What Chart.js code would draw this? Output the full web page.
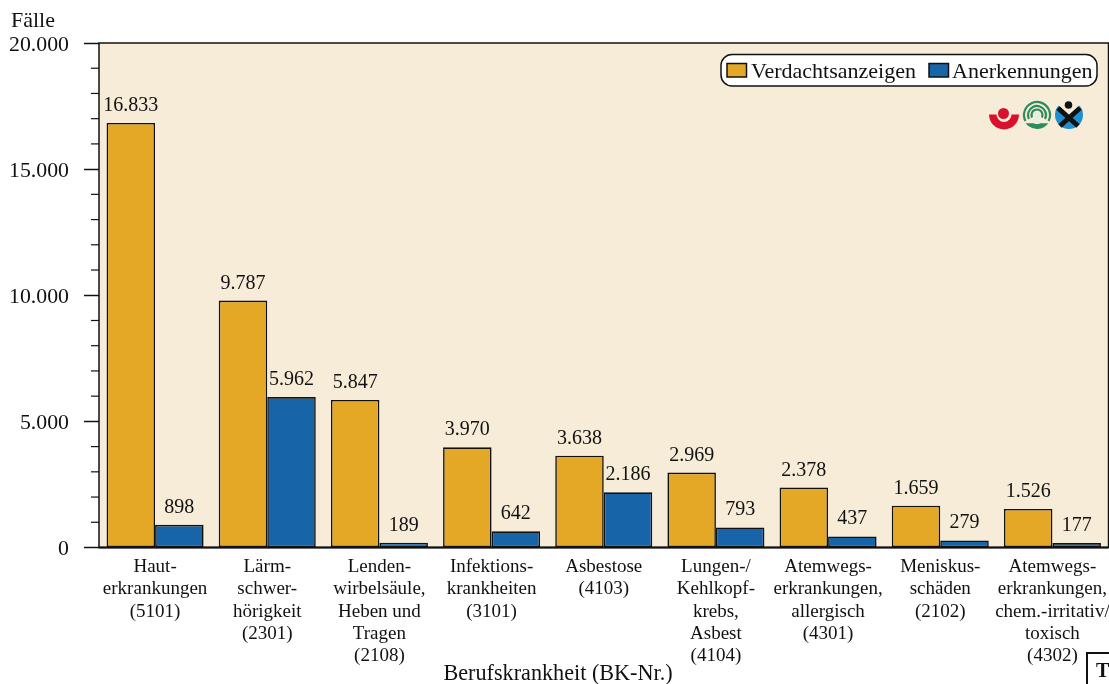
<!DOCTYPE html>
<html lang="de">
<head>
<meta charset="UTF-8">
<title>Berufskrankheiten</title>
<style>
    html, body { margin: 0; padding: 0; background: #fff; overflow: hidden; }
    canvas { display: block; }
</style>
<script src="https://cdn.jsdelivr.net/npm/chart.js"></script>
</head>
<body>
<canvas id="chart" width="1109" height="684"></canvas>
<script>
const categories = [
    ['Haut-', 'erkrankungen', '(5101)'],
    ['Lärm-', 'schwer-', 'hörigkeit', '(2301)'],
    ['Lenden-', 'wirbelsäule,', 'Heben und', 'Tragen', '(2108)'],
    ['Infektions-', 'krankheiten', '(3101)'],
    ['Asbestose', '(4103)'],
    ['Lungen-/', 'Kehlkopf-', 'krebs,', 'Asbest', '(4104)'],
    ['Atemwegs-', 'erkrankungen,', 'allergisch', '(4301)'],
    ['Meniskus-', 'schäden', '(2102)'],
    ['Atemwegs-', 'erkrankungen,', 'chem.-irritativ/', 'toxisch', '(4302)']
];
const verdachtsanzeigen = [16833, 9787, 5847, 3970, 3638, 2969, 2378, 1659, 1526];
const anerkennungen = [898, 5962, 189, 642, 2186, 793, 437, 279, 177];
const yTickLabels = ['0', '5.000', '10.000', '15.000', '20.000'];

const FONT = '"Liberation Serif", "Times New Roman", serif';
const GOLD = '#e5a826';
const BLUE = '#1765a8';
const PAPER = '#f6ecd8';
const INK = '#111';

// plot background
const plotBackground = {
    id: 'plotBackground',
    // y tick labels sit 2px under their ticks in the original
    afterUpdate(chart) {
        chart.scales.y.getLabelItems(chart.chartArea).forEach(item => {
            item.options.translation[1] += 2;
        });
    },
    beforeDraw(chart) {
        const a = chart.chartArea, c = chart.ctx;
        c.save();
        c.fillStyle = PAPER;
        c.fillRect(a.left, a.top, a.width, a.height);
        c.restore();
    }
};

// value labels over the bars
const barValues = {
    id: 'barValues',
    afterDatasetsDraw(chart) {
        const c = chart.ctx;
        c.save();
        c.font = '20px ' + FONT;
        c.fillStyle = INK;
        c.textAlign = 'center';
        c.textBaseline = 'alphabetic';
        chart.data.datasets.forEach((ds, i) => {
            chart.getDatasetMeta(i).data.forEach((bar, j) => {
                c.fillText(ds.data[j].toLocaleString('de-DE'), bar.x, bar.y - 12);
            });
        });
        c.restore();
    }
};

// frame, minor ticks, legend, axis captions, logos
const decorations = {
    id: 'decorations',
    afterDraw(chart) {
        const a = chart.chartArea, c = chart.ctx, y = chart.scales.y;
        c.save();
        c.strokeStyle = INK;

        c.lineWidth = 1.5;
        c.strokeRect(a.left, a.top, a.width, a.height);
        c.lineWidth = 2;
        c.beginPath();
        c.moveTo(a.left, a.bottom);
        c.lineTo(a.right, a.bottom);
        c.stroke();

        c.lineWidth = 1.2;
        y.ticks.forEach(t => {
            if (t.value % 5000 === 0) return;
            const py = y.getPixelForValue(t.value);
            c.beginPath();
            c.moveTo(a.left - 8, py);
            c.lineTo(a.left, py);
            c.stroke();
        });

        // legend
        c.fillStyle = '#fff';
        c.lineWidth = 1.5;
        c.beginPath();
        c.roundRect(721, 54.5, 376, 31.5, 11);
        c.fill();
        c.stroke();
        const entries = [[727, 751], [929, 952]];
        chart.data.datasets.forEach((ds, i) => {
            c.fillStyle = ds.backgroundColor;
            c.fillRect(entries[i][0], 63.5, 19.5, 13.5);
            c.lineWidth = 1.5;
            c.strokeRect(entries[i][0], 63.5, 19.5, 13.5);
            c.fillStyle = INK;
            c.font = '22px ' + FONT;
            c.textAlign = 'left';
            c.textBaseline = 'alphabetic';
            c.fillText(ds.label, entries[i][1], 78);
        });

        c.fillStyle = INK;
        c.font = '22px ' + FONT;
        c.textAlign = 'left';
        c.fillText('Fälle', 11, 27);
        c.font = '22.2px ' + FONT;
        c.textAlign = 'center';
        c.fillText('Berufskrankheit (BK-Nr.)', 558, 680);

        // T box
        c.fillStyle = '#fff';
        c.fillRect(1087, 653, 24, 34);
        c.lineWidth = 2;
        c.strokeRect(1087, 653, 24, 34);
        c.fillStyle = INK;
        c.font = 'bold 20px ' + FONT;
        c.textAlign = 'left';
        c.fillText('T', 1096, 677);

        drawLogos(c);
        c.restore();
    }
};

function drawLogos(c) {
    // red bowl with dot
    c.fillStyle = '#d8112c';
    c.beginPath();
    c.arc(1004, 114.5, 15, 0, Math.PI);
    c.arc(1004, 114.5, 7.5, Math.PI, 0, true);
    c.closePath();
    c.fill();
    c.beginPath();
    c.arc(1003.5, 113.5, 5.5, 0, Math.PI * 2);
    c.fill();

    // green rings
    c.strokeStyle = '#2e8b5e';
    c.fillStyle = '#2e8b5e';
    c.lineWidth = 2.2;
    [13, 9, 5.5].forEach(r => {
        c.beginPath();
        c.arc(1037, 115, r, Math.PI * 0.85, Math.PI * 2.15);
        c.stroke();
    });
    c.beginPath();
    c.arc(1037, 115, 14, Math.PI * 0.2, Math.PI * 0.8);
    c.closePath();
    c.fill();
    c.fillStyle = '#e4efe0';
    c.fillRect(1034.5, 112, 5, 12);

    // blue disc with figure
    c.fillStyle = '#1f8fd0';
    c.beginPath();
    c.arc(1069, 115, 14, 0, Math.PI * 2);
    c.fill();
    c.fillStyle = PAPER;
    c.beginPath();
    c.moveTo(1069, 116);
    c.lineTo(1084, 101);
    c.lineTo(1054, 101);
    c.closePath();
    c.fill();
    c.strokeStyle = '#111';
    c.lineWidth = 5;
    c.beginPath();
    c.moveTo(1058, 108);
    c.lineTo(1078, 126);
    c.moveTo(1080, 108);
    c.lineTo(1060, 126);
    c.stroke();
    c.fillStyle = '#111';
    c.beginPath();
    c.arc(1068.5, 105, 3.8, 0, Math.PI * 2);
    c.fill();
}

new Chart(document.getElementById('chart'), {
    type: 'bar',
    data: {
        labels: categories,
        datasets: [
            { label: 'Verdachtsanzeigen', data: verdachtsanzeigen, backgroundColor: GOLD },
            { label: 'Anerkennungen', data: anerkennungen, backgroundColor: BLUE }
        ]
    },
    options: {
        responsive: false,
        animation: false,
        layout: { padding: { top: 43, right: 0.5, left: 0, bottom: 0 } },
        datasets: {
            bar: {
                categoryPercentage: 0.865,
                barPercentage: 1,
                borderColor: INK,
                borderWidth: 1.6,
                borderSkipped: false
            }
        },
        plugins: {
            legend: { display: false },
            title: { display: false },
            tooltip: { enabled: false }
        },
        scales: {
            x: {
                grid: { display: false },
                border: { display: false },
                afterFit: s => { s.height = 136.5; s.paddingLeft = 0; s.paddingRight = 0; },
                ticks: {
                    color: INK,
                    font: { family: FONT, size: 19, lineHeight: 1.18 },
                    padding: 0,
                    autoSkip: false,
                    minRotation: 0,
                    maxRotation: 0
                }
            },
            y: {
                min: 0,
                max: 20000,
                grid: {
                    drawOnChartArea: false,
                    tickLength: 15,
                    tickWidth: 1.5,
                    tickColor: ctx => (ctx.tick.value % 5000 === 0 ? INK : 'transparent')
                },
                border: { display: false },
                afterFit: s => { s.width = 99; },
                ticks: {
                    stepSize: 1000,
                    autoSkip: false,
                    color: INK,
                    padding: 15,
                    font: { family: FONT, size: 21.8 },
                    callback: v => (v % 5000 === 0 ? yTickLabels[v / 5000] : '')
                }
            }
        }
    },
    plugins: [plotBackground, barValues, decorations]
});
</script>
</body>
</html>
